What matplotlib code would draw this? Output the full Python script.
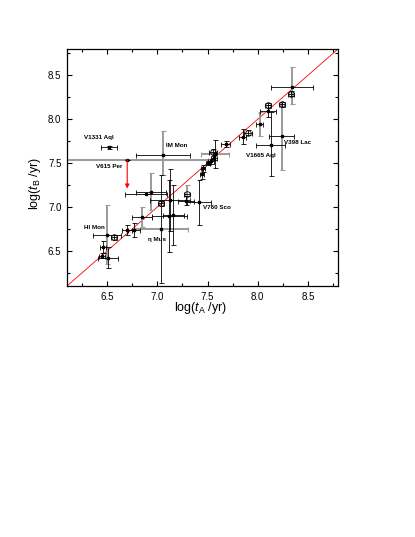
import matplotlib
matplotlib.use("Agg")
import matplotlib.pyplot as plt
from matplotlib.ticker import MultipleLocator
import numpy as np

plt.rcParams['font.family'] = ['Liberation Sans', 'DejaVu Sans']
plt.rcParams['mathtext.fontset'] = 'custom'
plt.rcParams['mathtext.rm'] = 'Liberation Sans'
plt.rcParams['mathtext.it'] = 'Liberation Sans:italic'

# ---------------------------------------------------------
#   Daten: log(t_A) gegen log(t_B)
# ---------------------------------------------------------
log_ta = [6.52, 7.06, 6.70, 8.24, 8.13, 7.415, 6.495, 7.04,
          8.34, 8.33, 8.24, 8.10, 8.10, 8.02, 7.90, 7.85, 7.68,
          7.575, 7.55, 7.56, 7.53, 7.50, 7.455, 7.445, 7.30, 7.29,
          7.13, 7.12, 7.16, 7.04, 6.94, 6.89, 6.845, 6.765, 6.695,
          6.565, 6.46, 6.445, 6.51]
log_tb = [7.68, 7.59, 7.54, 7.81, 7.71, 7.06, 6.685, 6.75,
          8.37, 8.29, 8.17, 8.16, 8.095, 7.945, 7.845, 7.80, 7.715,
          7.60, 7.625, 7.56, 7.52, 7.50, 7.44, 7.375, 7.15, 7.07,
          7.08, 6.895, 6.91, 7.04, 7.175, 7.145, 6.885, 6.74, 6.74,
          6.655, 6.545, 6.445, 6.42]
err_ta = [0.08, 0.27, 0.80, 0.125, 0.145, 0.12, 0.14, 0.27,
          0.21, 0.03, 0.03, 0.03, 0.08, 0.035, 0.04, 0.035, 0.045,
          0.14, 0.04, 0.03, 0.03, 0.02, 0.02, 0.02, 0.03, 0.08,
          0.20, 0.175, 0.107, 0.03, 0.15, 0.21, 0.10, 0.06, 0.05,
          0.03, 0.03, 0.03, 0.10]
err_tb_lo = [0.02, 0.23, 0.0, 0.39, 0.36, 0.26, 0.33, 0.62,
             0.20, 0.03, 0.03, 0.03, 0.065, 0.14, 0.03, 0.085, 0.035,
             0.16, 0.04, 0.03, 0.03, 0.02, 0.04, 0.06, 0.095, 0.05,
             0.35, 0.41, 0.34, 0.03, 0.21, 0.0, 0.11, 0.08, 0.06,
             0.03, 0.07, 0.03, 0.12]
err_tb_hi = [0.02, 0.28, 0.0, 0.39, 0.37, 0.25, 0.34, 0.62,
             0.22, 0.03, 0.03, 0.03, 0.065, 0.14, 0.03, 0.085, 0.035,
             0.16, 0.04, 0.03, 0.03, 0.02, 0.04, 0.06, 0.095, 0.05,
             0.35, 0.41, 0.34, 0.03, 0.21, 0.0, 0.11, 0.08, 0.06,
             0.03, 0.07, 0.03, 0.12]
# Fehler aus der alternativen Schaetzung (grau gezeichnet)
alt_ta = [False, False, True, False, False, False, False, True,
          False, False, False, False, False, False, False, False, False,
          True, False, False, False, False, False, False, False, False,
          False, False, False, False, False, False, False, False, False,
          False, False, False, False]
alt_tb = [False, True, False, True, False, False, True, False,
          True, False, False, False, False, True, False, False, False,
          False, False, False, False, False, False, False, True, False,
          False, False, False, False, True, False, True, False, False,
          False, False, False, False]
# Punkte mit Kreis-Symbol
ringed = [False, False, False, False, False, False, False, False,
          False, True, True, True, False, False, True, False, False,
          False, True, False, False, False, False, False, True, False,
          False, False, False, True, False, False, False, False, False,
          True, False, False, False]

names = ["V1331 Aql", "IM Mon", "V615 Per", "V398 Lac", "V1665 Aql",
         "V760 Sco", "HI Mon", "η Mus"]

# V615 Per: obere Grenze
limit_from = 7.54
limit_to = 7.21

# ---------------------------------------------------------
#   Plot
# ---------------------------------------------------------
fig = plt.figure(figsize=(4.15, 5.37), dpi=100)
ax = fig.add_axes([0.1614, 0.4674, 0.6531, 0.4414])

x = np.array(log_ta)
y = np.array(log_tb)
ex = np.array(err_ta)
ey = np.vstack([err_tb_lo, err_tb_hi])
ax_alt = np.array(alt_ta)
ay_alt = np.array(alt_tb)
ring = np.array(ringed)

lims = (6.1, 8.8)
ax.plot(lims, lims, color="red", linewidth=0.6, zorder=1)

grey = "#9a9a9a"
# graue Fehlerbalken
ax.errorbar(x[ax_alt], y[ax_alt], xerr=ex[ax_alt], fmt="none",
            ecolor=grey, elinewidth=1.4, capsize=1.8, capthick=0.8, zorder=2)
ax.errorbar(x[ay_alt], y[ay_alt], yerr=ey[:, ay_alt], fmt="none",
            ecolor=grey, elinewidth=1.4, capsize=1.8, capthick=0.8, zorder=2)
# schwarze Fehlerbalken
ax.errorbar(x[~ax_alt], y[~ax_alt], xerr=ex[~ax_alt], fmt="none",
            ecolor="black", elinewidth=0.6, capsize=1.8, capthick=0.6, zorder=3)
ax.errorbar(x[~ay_alt], y[~ay_alt], yerr=ey[:, ~ay_alt], fmt="none",
            ecolor="black", elinewidth=0.6, capsize=1.8, capthick=0.6, zorder=3)

ax.plot(x[~ring], y[~ring], "s", color="black", markersize=2, zorder=4)
ax.plot(x[ring], y[ring], "o", mfc="none", mec="black", mew=0.6,
        markersize=4, zorder=4)

# Pfeil fuer V615 Per
ax.annotate("", xy=(log_ta[2], limit_to), xytext=(log_ta[2], limit_from),
            arrowprops=dict(arrowstyle="-|>", color="red", lw=0.8,
                            mutation_scale=6, shrinkA=0, shrinkB=0),
            zorder=5)

label_pos = [(6.269, 7.794), (7.086, 7.695), (6.389, 7.459), (8.262, 7.737),
             (7.880, 7.581), (7.452, 6.992), (6.269, 6.764), (6.904, 6.635)]
for name, (lx, ly) in zip(names, label_pos):
    ax.text(lx, ly, name, fontsize=4.5, fontweight="bold",
            ha="left", va="center", zorder=6)

ax.set_xlim(lims)
ax.set_ylim(lims)
ax.xaxis.set_major_locator(MultipleLocator(0.5))
ax.xaxis.set_minor_locator(MultipleLocator(0.25))
ax.yaxis.set_major_locator(MultipleLocator(0.5))
ax.yaxis.set_minor_locator(MultipleLocator(0.25))
ax.tick_params(which="both", direction="in", top=True, right=True,
               labelsize=7, width=0.8)
ax.tick_params(which="major", length=3.5, pad=4)
ax.tick_params(which="minor", length=2)
for sp in ax.spines.values():
    sp.set_linewidth(0.9)

fig.text(200.8 / 415, 1 - 308.3 / 537, r"log($t_{\rm A}$ /yr)",
         fontsize=9, ha="center", va="center")
fig.text(35 / 415, 1 - 183 / 537, r"log($t_{\rm B}$ /yr)",
         fontsize=9, ha="center", va="center", rotation=90)

fig.savefig("out.png", dpi=100)
